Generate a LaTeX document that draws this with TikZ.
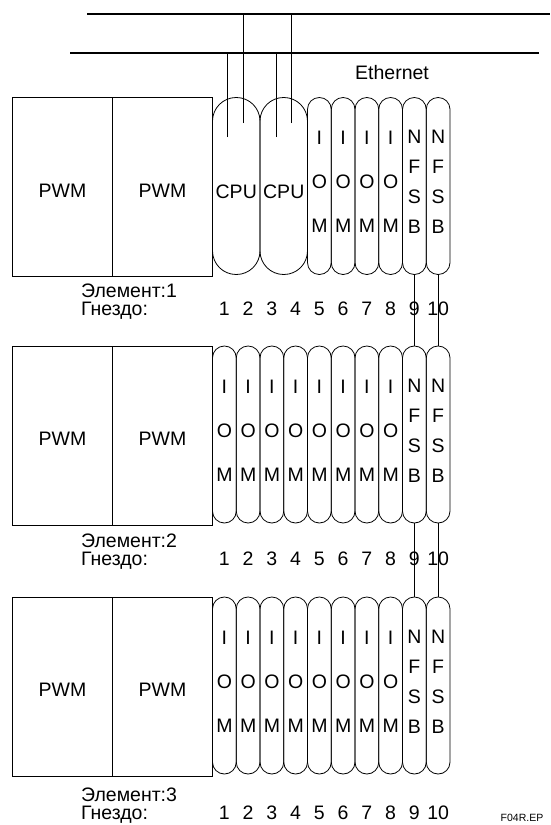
\documentclass[tikz,border=0pt]{standalone}
\usepackage{fontspec}
\setmainfont{Liberation Sans}
\begin{document}
\begin{tikzpicture}[x=1pt,y=-1pt,font=\fontsize{19.5}{22}\selectfont,
  pwmbox/.style={draw,line width=1pt,minimum width=100pt,minimum height=179pt,inner sep=0pt,
    text height=20pt,text depth=0pt},
  slotbox/.style={draw,line width=0.8pt,rounded corners=11.8pt,minimum width=23.75pt,
    minimum height=177pt,inner sep=0pt,align=center},
  iombox/.style={slotbox,font=\fontsize{19.5}{44}\selectfont,text height=102pt,text depth=9pt},
  nfsbbox/.style={slotbox,font=\fontsize{19.5}{30}\selectfont,text height=104pt,text depth=9pt},
  cpubox/.style={slotbox,rounded corners=23.6pt,minimum width=47.5pt,text height=24pt,text depth=0pt},
  rowtext/.style={inner sep=0pt,anchor=base},
  bus/.style={line width=1.8pt},
  link/.style={line width=1pt}]
\useasboundingbox (0,0) rectangle (550,825);
\def\sx{212.5}
\def\sw{23.75}
% Ethernet buses
\coordinate (bushiW) at (87,14);
\coordinate (bushiE) at (550,14);
\coordinate (busloW) at (70,53);
\coordinate (busloE) at (539,53);
\draw[bus] (bushiW) -- (bushiE);
\draw[bus] (busloW) -- (busloE);
\node (eth) at (392,73) {Ethernet};
% racks
\foreach \r/\T/\B in {1/97.5/297,2/346/547,3/597/801}{
  \node[pwmbox] (pwma-\r) at (62.5,\T+89.5) {PWM};
  \node[pwmbox] (pwmb-\r) at (162.5,\T+89.5) {PWM};
  \node[rowtext,anchor=base west] (elem-\r) at (81,\B) {Элемент:\r};
  \node[rowtext,anchor=base west] (nest-\r) at (81,\B+18) {Гнездо:};
  \foreach \s in {1,...,10}
    \node[rowtext] (num-\r-\s) at ({\sx+\sw*(\s-0.5)},\B+18) {\s};
  \foreach \s in {9,10}
    \node[nfsbbox] (m-\r-\s) at ({\sx+\sw*(\s-0.5)},\T+88.5) {N\\F\\S\\B};
}
\foreach \r/\T in {2/346,3/597}
  \foreach \s in {1,...,8}
    \node[iombox] (m-\r-\s) at ({\sx+\sw*(\s-0.5)},\T+88.5) {I\\O\\M};
\foreach \s in {5,...,8}
  \node[iombox] (m-1-\s) at ({\sx+\sw*(\s-0.5)},97.5+88.5) {I\\O\\M};
\node[cpubox] (cpu-1) at ({\sx+\sw},97.5+88.5) {CPU};
\node[cpubox] (cpu-2) at ({\sx+3*\sw},97.5+88.5) {CPU};
% taps from the CPUs to the buses
\coordinate (tap-1) at (227.5,137);
\coordinate (tap-2) at (243,123);
\coordinate (tap-3) at (276,137);
\coordinate (tap-4) at (291,123);
\draw[link] (tap-1) -- (tap-1 |- busloW);
\draw[link] (tap-3) -- (tap-3 |- busloW);
\draw[link] (tap-2) -- (tap-2 |- bushiW);
\draw[link] (tap-4) -- (tap-4 |- bushiW);
% NFSB links between the racks
\foreach \s in {9,10}{
  \draw[link] (m-1-\s.south) -- (m-2-\s.north);
  \draw[link] (m-2-\s.south) -- (m-3-\s.north);
}
\node[font=\fontsize{10.5}{12}\selectfont] (code) at (522,818) {F04R.EP};
\end{tikzpicture}
\end{document}
